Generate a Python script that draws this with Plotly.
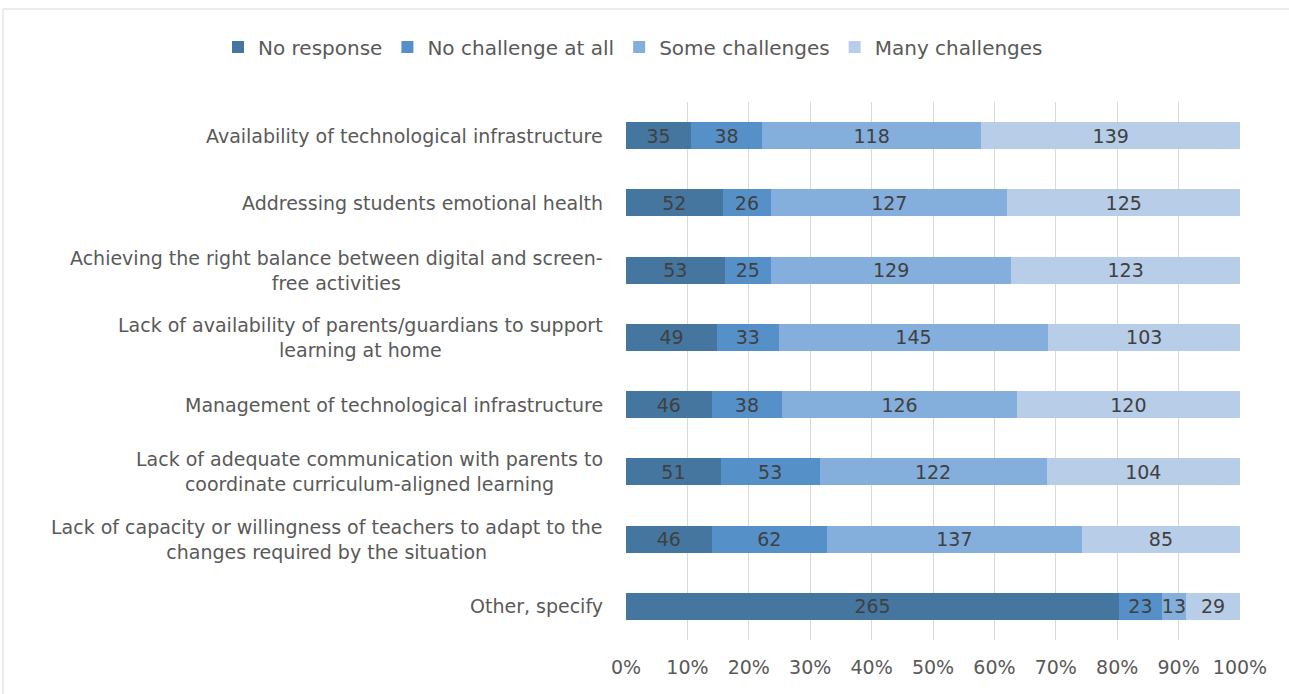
import plotly.graph_objects as go

categories = [
    "Availability of technological infrastructure",
    "Addressing students emotional health",
    "Achieving the right balance between digital and screen-<br>free activities",
    "Lack of availability of parents/guardians to support<br>learning at home",
    "Management of technological infrastructure",
    "Lack of adequate communication with parents to<br>coordinate curriculum-aligned learning",
    "Lack of capacity or willingness of teachers to adapt to the<br>changes required by the situation",
    "Other, specify",
]
no_response = [35, 52, 53, 49, 46, 51, 46, 265]
no_challenge = [38, 26, 25, 33, 38, 53, 62, 23]
some_challenges = [118, 127, 129, 145, 126, 122, 137, 13]
many_challenges = [139, 125, 123, 103, 120, 104, 85, 29]
tick_values = list(range(0, 101, 10))
tick_labels = [f"{v}%" for v in tick_values]

series = [
    ("No response", no_response, "#44769F"),
    ("No challenge at all", no_challenge, "#5591C8"),
    ("Some challenges", some_challenges, "#84AEDC"),
    ("Many challenges", many_challenges, "#B8CDE8"),
]

FONT = "DejaVu Sans, sans-serif"
GREY = "#595959"

fig = go.Figure()
for name, vals, color in series:
    fig.add_trace(go.Bar(
        y=categories, x=vals, name=name, orientation="h",
        marker=dict(color=color, line=dict(width=0)),
        text=[str(v) for v in vals], textposition="inside",
        insidetextanchor="middle", textangle=0, constraintext="none",
        textfont=dict(family=FONT, size=19, color="#404040"),
        hoverinfo="x+y",
    ))

annotations = [
    dict(text=c, x=0, y=c, xref="paper", yref="y", xanchor="right", yanchor="middle",
         xshift=-21, align="center", showarrow=False,
         font=dict(family=FONT, size=19, color=GREY))
    for c in categories
]

fig.update_layout(
    barmode="stack", barnorm="percent", bargap=0.6,
    width=1289, height=694,
    margin=dict(l=626, r=49, t=102, b=54, autoexpand=False),
    paper_bgcolor="white", plot_bgcolor="white",
    font=dict(family=FONT, size=19, color=GREY),
    uniformtext=dict(minsize=8, mode="show"),
    legend=dict(orientation="h", x=(218 - 626) / 614, xanchor="left", xref="paper",
                y=(640 - 47) / 538, yanchor="middle", yref="paper",
                font=dict(family=FONT, size=20, color=GREY), traceorder="normal",
                itemwidth=30),
    xaxis=dict(range=[0, 100], tickmode="array", tickvals=tick_values, ticktext=tick_labels,
               showgrid=True, gridcolor="#D9D9D9", gridwidth=1, zeroline=False,
               showline=False, tickfont=dict(family=FONT, size=19, color=GREY),
               ticks="", ticklabelstandoff=14, automargin=False),
    yaxis=dict(categoryorder="array", categoryarray=categories, autorange="reversed",
               showgrid=False, showline=False, ticks="", showticklabels=False,
               automargin=False),
    annotations=annotations,
    shapes=[dict(type="rect", xref="paper", yref="paper",
                 x0=(3 - 626) / 614, x1=(1295 - 626) / 614,
                 y0=(640 - 700) / 538, y1=(640 - 9) / 538,
                 line=dict(color="#D9D9D9", width=1), fillcolor="rgba(0,0,0,0)")],
)
fig.write_html("out.html", config={"displayModeBar": False},
               post_script="document.body.style.margin='0';")
